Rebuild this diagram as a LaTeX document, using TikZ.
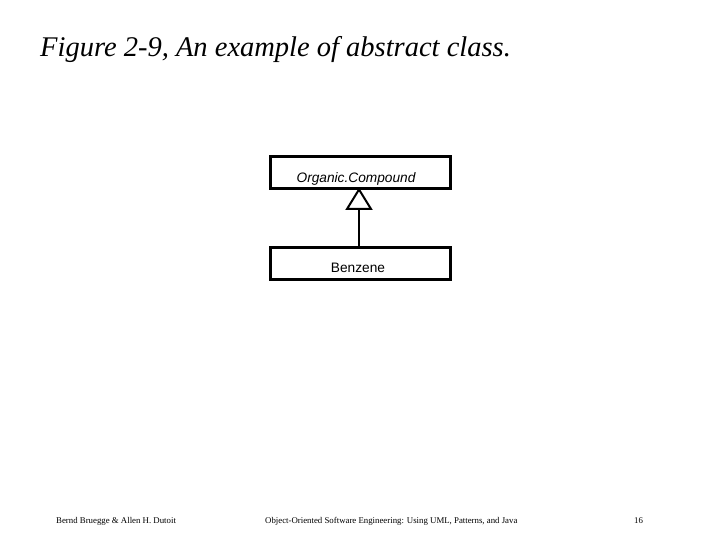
\documentclass[tikz,border=0pt]{standalone}
\usepackage{fontspec}
\setmainfont{Liberation Serif}
\newfontfamily\arialf{Liberation Sans}
\begin{document}
\begin{tikzpicture}[x=1pt,y=-1pt,
  cls/.style={draw=black,line width=3pt,minimum width=180pt,minimum height=32pt,inner sep=0pt},
  clstext/.style={inner sep=0pt,font=\arialf\fontsize{13.7}{15}\selectfont},
  gen/.style={line width=2pt},
  foot/.style={font=\fontsize{8.8}{10}\selectfont,anchor=base west,inner sep=0pt}]
\useasboundingbox (0,0) rectangle (720,540);
\node[anchor=base west,inner sep=0pt,font=\fontsize{28.5}{32}\selectfont\itshape] (title) at (40,57) {Figure 2-9, An example of abstract class.};
\node[cls] (oc) at (360,173) {};
\node[clstext] (oct) at (356,179) {\itshape Organic.Compound};
\node[cls] (bz) at (360,263) {};
\node[clstext] (bzt) at (358,268) {Benzene};
\coordinate (apex) at (359,189.5);
\coordinate (bl) at (347,209);
\coordinate (br) at (371,209);
\coordinate (bm) at (359,209);
\draw[gen,line join=miter] (apex) -- (bl) -- (br) -- cycle;
\draw[gen] (bm) -- (bz.north -| bm);
\node[foot] (f1) at (56,523) {Bernd Bruegge \& Allen H. Dutoit};
\node[foot] (f2) at (265,523) {Object-Oriented Software Engineering: Using UML, Patterns, and Java};
\node[foot] (f3) at (634,523) {16};
\end{tikzpicture}
\end{document}
